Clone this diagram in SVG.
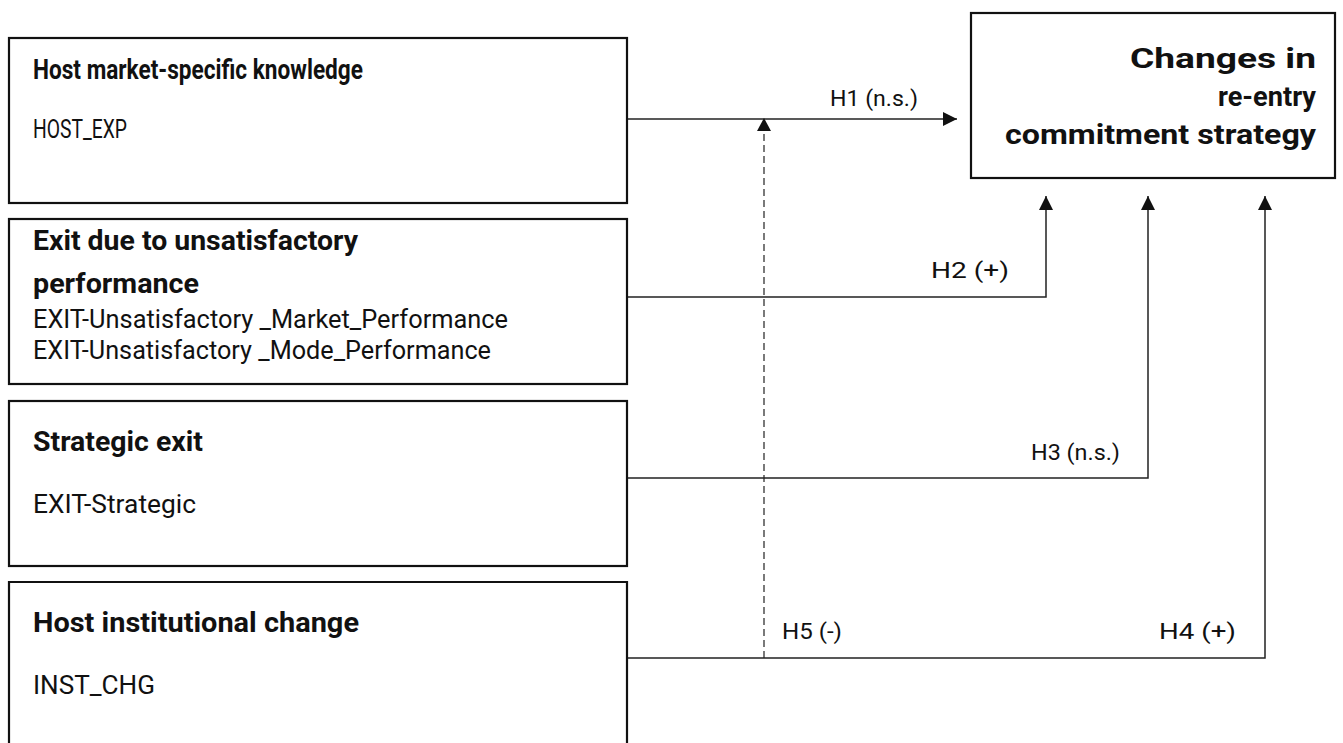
<svg xmlns="http://www.w3.org/2000/svg" width="1343" height="743" viewBox="0 0 1343 743">
<style>
.box{fill:#fff;stroke:#111;stroke-width:2.2}
.t{font-family:"Liberation Sans Narrow",Roboto,"Noto Sans",sans-serif;fill:#111}
.b{font-weight:bold;font-size:28px}
.r{font-size:26px}
.lbl{font-family:"Liberation Sans Narrow",Roboto,"Noto Sans",sans-serif;font-size:22px;fill:#111}
.ln{fill:none;stroke:#222;stroke-width:1.5}
.dash{fill:none;stroke:#222;stroke-width:1.2;stroke-dasharray:7 4}
</style>
<defs>
<marker id="ah" viewBox="0 0 10 10" refX="10" refY="5" markerWidth="14" markerHeight="14" markerUnits="userSpaceOnUse" orient="auto">
<path d="M0,0 L10,5 L0,10 Z" fill="#111"/>
</marker>
</defs>
<rect width="1343" height="743" fill="#fff"/>
<g id="connectors">
<path class="ln" d="M627,119 H957" marker-end="url(#ah)"/>
<path class="ln" d="M627,297 H1046 V196" marker-end="url(#ah)"/>
<path class="ln" d="M627,478 H1148 V196" marker-end="url(#ah)"/>
<path class="ln" d="M627,658 H1265 V196" marker-end="url(#ah)"/>
<path class="dash" d="M764,658 V131"/>
<path d="M764,118 L771,131 L757,131 Z" fill="#111"/>
<text class="lbl" x="830" y="106" textLength="88" lengthAdjust="spacingAndGlyphs">H1 (n.s.)</text>
<text class="lbl" x="931" y="278" textLength="78" lengthAdjust="spacingAndGlyphs">H2 (+)</text>
<text class="lbl" x="1031" y="460" textLength="89" lengthAdjust="spacingAndGlyphs">H3 (n.s.)</text>
<text class="lbl" x="1159" y="639" textLength="77" lengthAdjust="spacingAndGlyphs">H4 (+)</text>
<text class="lbl" x="782" y="639" textLength="60" lengthAdjust="spacingAndGlyphs">H5 (-)</text>
</g>
<g id="node-host-knowledge">
<rect class="box" x="9" y="38" width="618" height="165"/>
<text class="t b" x="33" y="79" textLength="330" lengthAdjust="spacingAndGlyphs">Host market-specific knowledge</text>
<text class="t r" x="33" y="138" textLength="94" lengthAdjust="spacingAndGlyphs">HOST_EXP</text>
</g>
<g id="node-exit-unsatisfactory">
<rect class="box" x="9" y="219" width="618" height="165"/>
<text class="t b" x="33" y="250" textLength="325" lengthAdjust="spacingAndGlyphs">Exit due to unsatisfactory</text>
<text class="t b" x="33" y="293" textLength="166" lengthAdjust="spacingAndGlyphs">performance</text>
<text class="t r" x="33" y="328" textLength="475" lengthAdjust="spacingAndGlyphs">EXIT-Unsatisfactory _Market_Performance</text>
<text class="t r" x="33" y="359" textLength="458" lengthAdjust="spacingAndGlyphs">EXIT-Unsatisfactory _Mode_Performance</text>
</g>
<g id="node-strategic-exit">
<rect class="box" x="9" y="401" width="618" height="165"/>
<text class="t b" x="33" y="451" textLength="170" lengthAdjust="spacingAndGlyphs">Strategic exit</text>
<text class="t r" x="33" y="513" textLength="163" lengthAdjust="spacingAndGlyphs">EXIT-Strategic</text>
</g>
<g id="node-institutional-change">
<path class="box" d="M9,745 V582 H627 V745"/>
<text class="t b" x="33" y="632" textLength="326" lengthAdjust="spacingAndGlyphs">Host institutional change</text>
<text class="t r" x="33" y="694" textLength="122" lengthAdjust="spacingAndGlyphs">INST_CHG</text>
</g>
<g id="node-reentry-strategy">
<rect class="box" x="971" y="13" width="364" height="165"/>
<text class="t b" x="1316" y="68" text-anchor="end" font-size="32" textLength="186" lengthAdjust="spacingAndGlyphs">Changes in</text>
<text class="t b" x="1316" y="106" text-anchor="end" font-size="32" textLength="98" lengthAdjust="spacingAndGlyphs">re-entry</text>
<text class="t b" x="1316" y="144" text-anchor="end" font-size="32" textLength="311" lengthAdjust="spacingAndGlyphs">commitment strategy</text>
</g>
</svg>
